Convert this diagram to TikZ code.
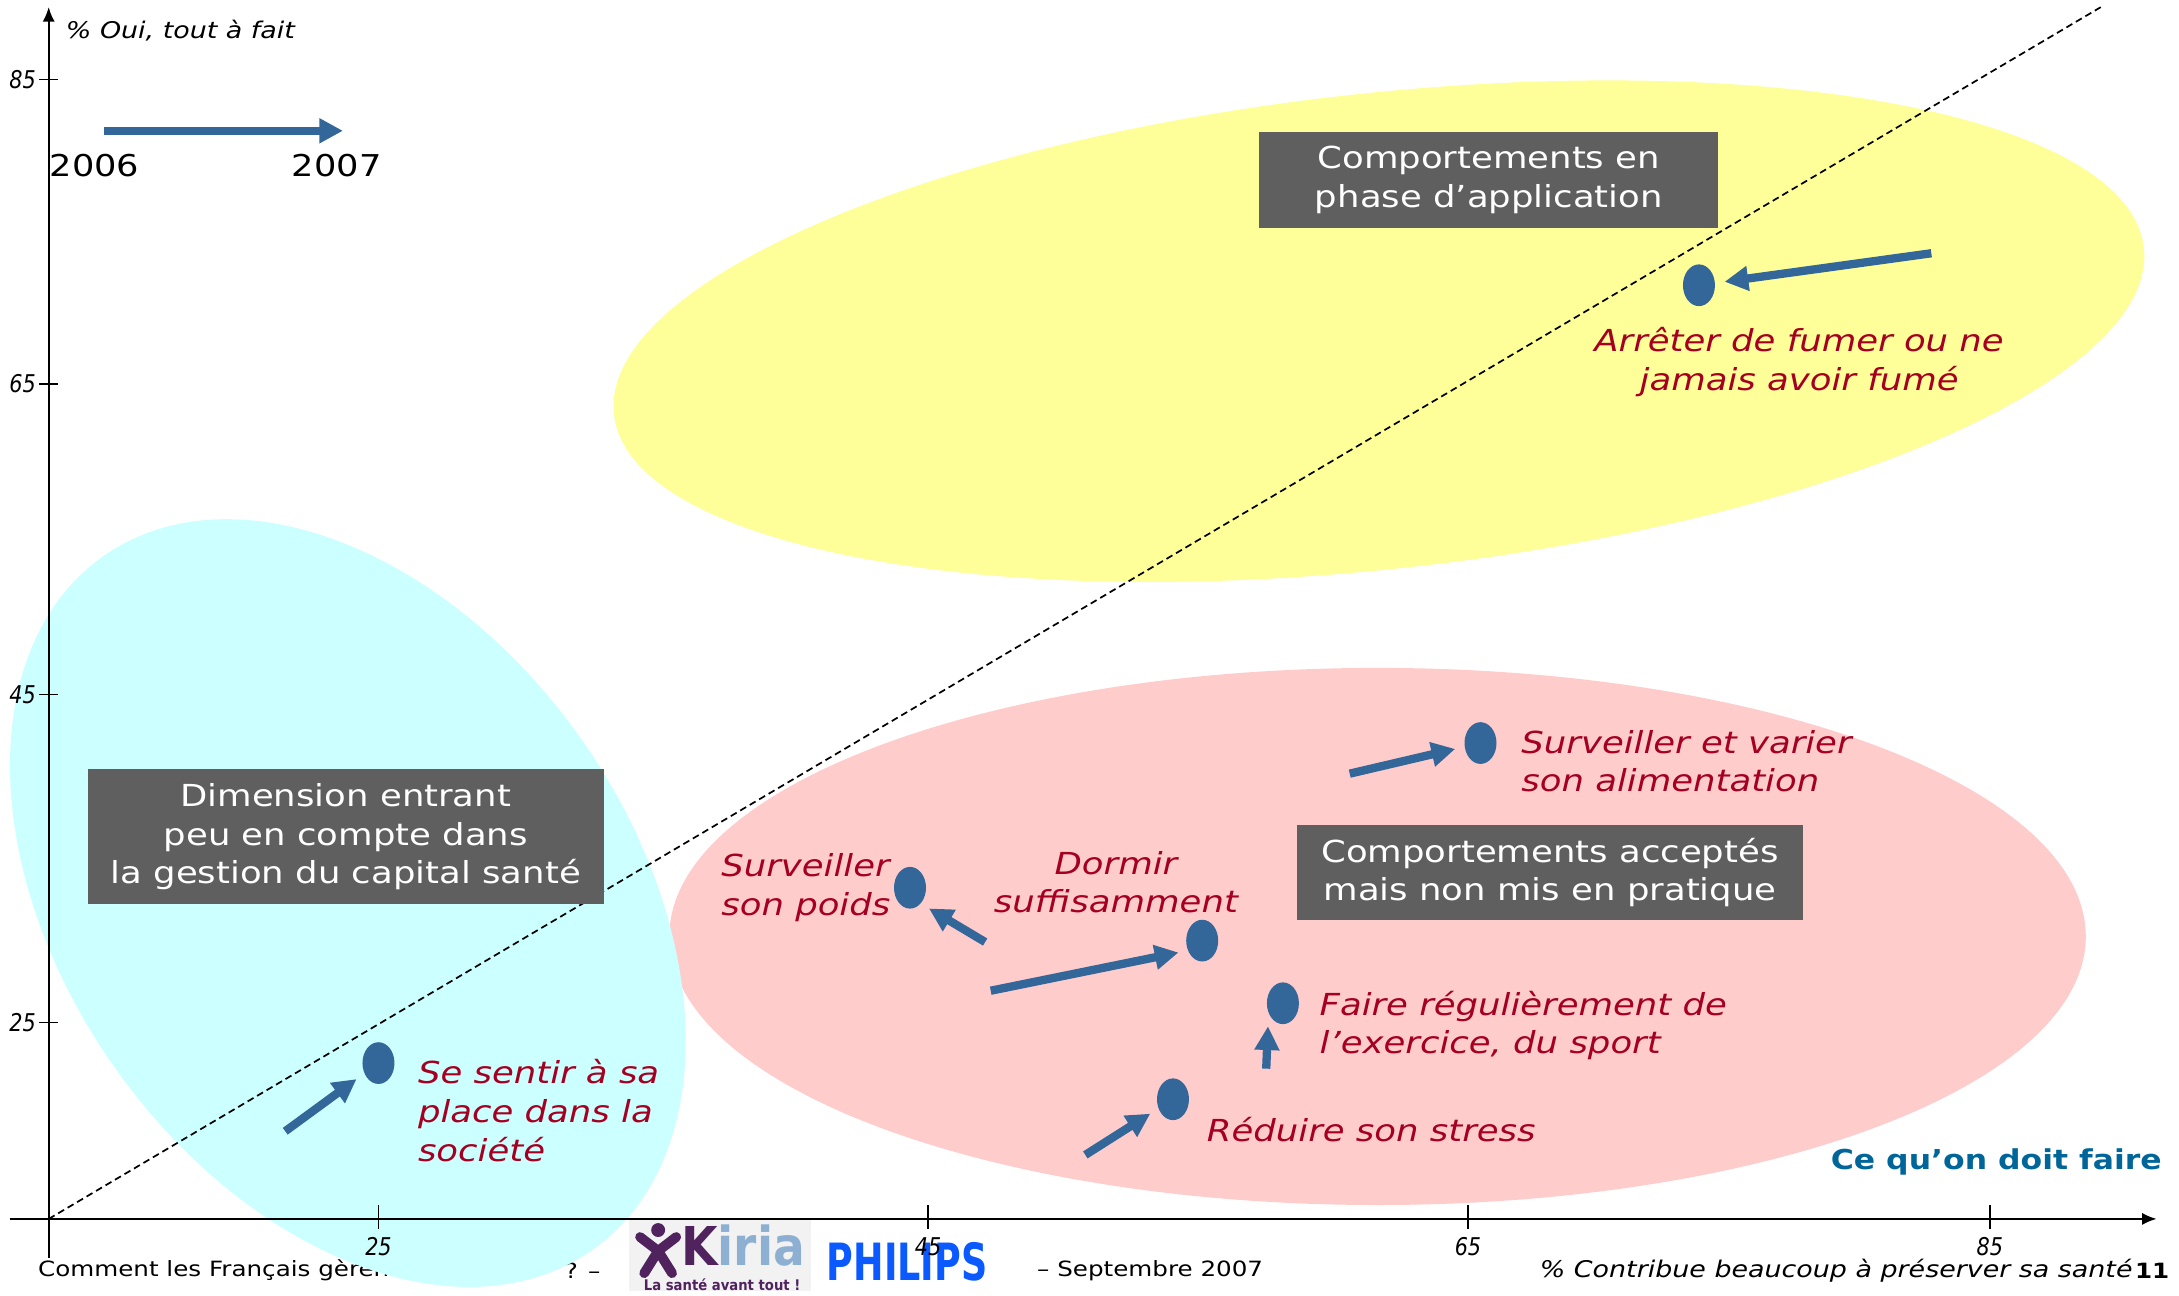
\documentclass[tikz,border=0pt]{standalone}
\usepackage{fontspec}
\setmainfont{DejaVu Sans}
\usetikzlibrary{shapes.geometric,arrows.meta}
\definecolor{zoneyellow}{RGB}{255,255,153}
\definecolor{zonecyan}{RGB}{204,255,255}
\definecolor{zonepink}{RGB}{255,204,204}
\definecolor{boxgray}{RGB}{95,95,95}
\definecolor{trendblue}{RGB}{51,102,153}
\definecolor{labelred}{RGB}{165,0,33}
\definecolor{noteblue}{RGB}{0,102,153}
\definecolor{philipsblue}{RGB}{10,90,255}
\definecolor{kiriadark}{RGB}{80,35,95}
\definecolor{kirialight}{RGB}{140,175,210}
\tikzset{
	titlebox/.style={fill=boxgray,text=white,align=center,inner sep=0pt,xscale=1.17,font=\fontsize{12.4}{15.8}\selectfont},
	behav/.style={text=labelred,inner sep=0pt,xscale=1.17,font=\fontsize{12.4}{15.9}\selectfont\itshape},
	bluedot/.style={ellipse,fill=trendblue,minimum width=0.46cm,minimum height=0.6cm,inner sep=0pt,outer sep=2pt},
	trend/.style={draw=trendblue,line width=3.4pt,shorten >=2pt,-{Triangle[length=9.7pt,width=9.7pt]}},
	axistext/.style={inner sep=0pt,xscale=1.17,font=\fontsize{9.4}{11}\selectfont\itshape},
	ticktext/.style={inner sep=0pt,xscale=0.85,font=\fontsize{10}{12}\selectfont\itshape},
	foottext/.style={inner sep=0pt,xscale=1.17,font=\fontsize{8.6}{10}\selectfont},
}
\begin{document}
\begin{tikzpicture}[x=0.02cm,y=-0.02cm,line join=round,>={Latex[length=6pt,width=5pt]}]
	\useasboundingbox (0,0) rectangle (1566,930.7);
	\node[foottext,anchor=west] (footA) at (27,913) {Comment les Français gèren};
	\node[foottext,anchor=east] (footB) at (432,913) {? –};
	% zones
	\fill[zoneyellow,rotate around={6.2:(991,238)}] (991,238) ellipse [x radius=553,y radius=171];
	\fill[zonepink] (990,673) ellipse [x radius=509,y radius=193];
	\fill[zonecyan,rotate around={-54.8:(250,649)}] (250,649) ellipse [x radius=305,y radius=205];
	% logos
	\fill[black!5] (452,877) rectangle (583,928);
	\fill[kiriadark] (473,884) circle (5);
	\draw[kiriadark,line width=4pt,line cap=round] (460,889) -- (473,899) -- (486,889) (473,899) -- (463,915) (473,899) -- (483,915);
	\node[inner sep=0pt,xscale=0.88,font=\fontsize{21.9}{22}\selectfont\bfseries] (kiria) at (534,895) {\textcolor{kiriadark}{K}\textcolor{kirialight}{iria}};
	\node[inner sep=0pt,text=kiriadark,xscale=0.9,font=\fontsize{6}{7}\selectfont\bfseries] (kiriasub) at (519,923) {La santé avant tout !};
	\node[inner sep=0pt,text=philipsblue,xscale=0.71,font=\fontsize{21}{21}\selectfont\bfseries] (philips) at (652,907) {PHILIPS};
	\node[foottext,anchor=west] (footC) at (745,913) {– Septembre 2007};
	% axes
	\coordinate (O) at (35,876);
	\coordinate (diagEnd) at (1510,5);
	\draw[line width=0.9pt,->] (7,876) -- (1550,876);
	\draw[line width=0.9pt,->] (35,904) -- (35,5);
	\draw[line width=0.6pt] (28,57)--(42,57) (28,276)--(42,276) (28,499)--(42,499) (28,735)--(42,735);
	\draw[line width=0.6pt] (272,866)--(272,883) (667,866)--(667,883) (1055,866)--(1055,883) (1430,866)--(1430,883);
	\node[ticktext,anchor=east] (ty85) at (26,57) {85};
	\node[ticktext,anchor=east] (ty65) at (26,276) {65};
	\node[ticktext,anchor=east] (ty45) at (26,499) {45};
	\node[ticktext,anchor=east] (ty25) at (26,735) {25};
	\node[ticktext] (tx25) at (272,896) {25};
	\node[ticktext] (tx45) at (667,896) {45};
	\node[ticktext] (tx65) at (1055,896) {65};
	\node[ticktext] (tx85) at (1430,896) {85};
	\draw[line width=0.7pt,dash pattern=on 2.8pt off 1.7pt] (O) -- (diagEnd);
	\node[axistext,anchor=west] (ylab) at (47,22) {\% Oui, tout à fait};
	\node[axistext,anchor=east] (xlab) at (1533,913) {\% Contribue beaucoup à préserver sa santé};
	\node[foottext,anchor=west,font=\fontsize{8.6}{10}\selectfont\bfseries] (page) at (1534,913) {11};
	% legend
	\coordinate (y2006) at (75,94);
	\coordinate (y2007) at (250,94);
	\draw[trend] (y2006) -- (y2007);
	\node[inner sep=0pt,xscale=1.17,font=\fontsize{12.3}{14}\selectfont] (t2006) at (68,119) {2006};
	\node[inner sep=0pt,xscale=1.17,font=\fontsize{12.3}{14}\selectfont] (t2007) at (242,119) {2007};
	% boxes
	\node[titlebox,minimum width=5.64cm,minimum height=1.38cm] (application) at (1070,129.5) {Comportements en\\phase d’application};
	\node[titlebox,minimum width=6.34cm,minimum height=1.94cm] (dimension) at (248.5,601.5) {Dimension entrant\\peu en compte dans\\la gestion du capital santé};
	\node[titlebox,minimum width=6.22cm,minimum height=1.36cm] (acceptes) at (1114,627) {Comportements acceptés\\mais non mis en pratique};
	% behaviours
	\node[bluedot] (pFumer) at (1221,205) {};
	\node[bluedot] (pAlim) at (1064,534) {};
	\node[bluedot] (pPoids) at (654,638) {};
	\node[bluedot] (pDormir) at (864,676) {};
	\node[bluedot] (pSport) at (922,721) {};
	\node[bluedot] (pStress) at (843,790) {};
	\node[bluedot] (pPlace) at (272,764) {};
	\coordinate (sFumer) at (1388,182);
	\coordinate (sAlim) at (970,556);
	\coordinate (sPoids) at (708,677);
	\coordinate (sDormir) at (712,712);
	\coordinate (sSport) at (910,768);
	\coordinate (sStress) at (780,830);
	\coordinate (sPlace) at (205,813);
	\draw[trend] (sFumer) -- (pFumer);
	\draw[trend] (sAlim) -- (pAlim);
	\draw[trend] (sPoids) -- (pPoids.south east);
	\draw[trend] (sDormir) -- (pDormir.210);
	\draw[trend] (sSport) -- (pSport.south west);
	\draw[trend] (sStress) -- (pStress);
	\draw[trend] (sPlace) -- (pPlace);
	\node[behav,align=center] (fumer) at (1293,260) {Arrêter de fumer ou ne\\jamais avoir fumé};
	\node[behav,align=left,anchor=west] (alim) at (1093,547) {Surveiller et varier\\son alimentation};
	\node[behav,align=left,anchor=west] (poids) at (518,638) {Surveiller\\son poids};
	\node[behav,align=center] (sommeil) at (802,634) {Dormir\\suffisamment};
	\node[behav,align=left,anchor=west] (sport) at (948,737) {Faire régulièrement de\\l’exercice, du sport};
	\node[behav,anchor=west] (stress) at (867,812) {Réduire son stress};
	\node[behav,align=left,anchor=west] (place) at (300,798) {Se sentir à sa\\place dans la\\société};
	\node[inner sep=0pt,anchor=east,text=noteblue,xscale=1.15,font=\fontsize{11.2}{13}\selectfont\bfseries] (doit) at (1554,835) {Ce qu’on doit faire};
\end{tikzpicture}
\end{document}
